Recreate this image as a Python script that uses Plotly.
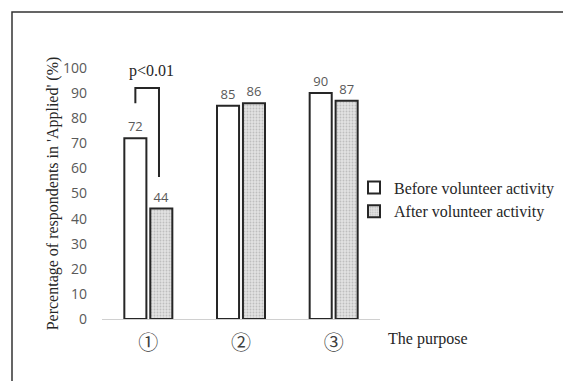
import plotly.graph_objects as go

categories = ["①", "②", "③"]
before_vals = [72, 85, 90]
after_vals = [44, 86, 87]
series_names = ["Before volunteer activity", "After volunteer activity"]
y_ticks = [0, 10, 20, 30, 40, 50, 60, 70, 80, 90, 100]
sig_text = "p<0.01"

BARGAP = 0.44
BARGROUPGAP = 0.15
x_pos = list(range(len(categories)))

# page body adds an 8px offset; compensate
OFF = 8
W, H = 571 - OFF, 381 - OFF
ML, MT = 102 - OFF, 68 - OFF
PLOT_R, PLOT_B = 380 - OFF, 319 - OFF
MR, MB = W - PLOT_R, H - PLOT_B
pw = PLOT_R - ML
ph = PLOT_B - MT

def px2paper_x(px):
    return (px - OFF - ML) / pw

def px2paper_y(py):
    return (PLOT_B - (py - OFF)) / ph

serif = "Liberation Serif, Times New Roman, serif"
sans = "Open Sans, sans-serif"
gray = "#595959"
edge = "#262626"

fig = go.Figure()
fig.add_trace(go.Bar(
    x=x_pos, y=before_vals, name=series_names[0],
    marker=dict(color="white", line=dict(color=edge, width=2)),
    text=before_vals, textposition="outside",
    textfont=dict(family=sans, size=13, color=gray),
    cliponaxis=False,
))
fig.add_trace(go.Bar(
    x=x_pos, y=after_vals, name=series_names[1],
    marker=dict(color="#d4d4d4", line=dict(color=edge, width=2),
                pattern=dict(shape=".", fgcolor="#9a9a9a", bgcolor="#e2e2e2",
                             size=3, solidity=0.3)),
    text=after_vals, textposition="outside",
    textfont=dict(family=sans, size=13, color=gray),
    cliponaxis=False,
))

# significance bracket over the first group
slot = (1 - BARGAP) / 2
left_x = x_pos[0] - slot / 2
right_x = x_pos[0] + slot / 2 - 0.025
top_y = before_vals[0] + 20
fig.add_trace(go.Scatter(
    x=[left_x, left_x, right_x, right_x],
    y=[before_vals[0] + 14, top_y, top_y, after_vals[0] + 12.6],
    mode="lines", line=dict(color=edge, width=2),
    showlegend=False, hoverinfo="skip", cliponaxis=False,
))
fig.add_annotation(x=x_pos[0] + 0.03, y=top_y + 7, text=sig_text, showarrow=False,
                   font=dict(family=serif, size=16, color="#262626"))

# x-axis title placed to the right of the axis
fig.add_annotation(xref="paper", yref="paper", x=px2paper_x(386), y=px2paper_y(339),
                   xanchor="left", yanchor="middle", text="The purpose", showarrow=False,
                   font=dict(family=serif, size=16, color="#262626"))

# outer frame
fig.add_shape(type="rect", xref="paper", yref="paper",
              x0=px2paper_x(12), x1=px2paper_x(700), y0=px2paper_y(500), y1=px2paper_y(12),
              line=dict(color="#333333", width=1.5), fillcolor="rgba(0,0,0,0)", layer="below")

fig.update_layout(
    width=W, height=H,
    margin=dict(l=ML, r=MR, t=MT, b=MB, autoexpand=False),
    paper_bgcolor="white", plot_bgcolor="white",
    barmode="group", bargap=BARGAP, bargroupgap=BARGROUPGAP,
    legend=dict(x=px2paper_x(354), y=px2paper_y(199.5), xanchor="left", yanchor="middle",
                font=dict(family=serif, size=16, color="#262626"),
                bgcolor="rgba(0,0,0,0)", tracegroupgap=0),
    xaxis=dict(tickmode="array", tickvals=x_pos, ticktext=categories,
               range=[-0.5, len(categories) - 0.5],
               showline=True, linecolor="#d0d0d0", linewidth=1,
               showgrid=False, zeroline=False, ticks="", ticklabelstandoff=6,
               tickfont=dict(family="Noto Sans CJK JP", size=20, color="#404040")),
    yaxis=dict(range=[0, 100], tickvals=y_ticks, showgrid=False, zeroline=False,
               showline=False, ticks="", ticklabelstandoff=14,
               tickfont=dict(family=sans, size=14, color=gray),
               title=dict(text="Percentage of respondents in 'Applied' (%)",
                          font=dict(family=serif, size=16, color="#262626"), standoff=0)),
)

fig.write_html("out.html")
